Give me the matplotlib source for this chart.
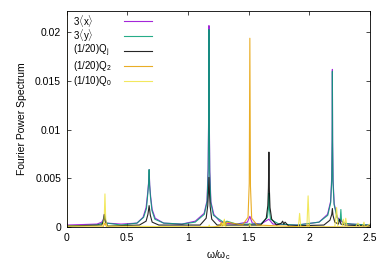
import numpy as np
import matplotlib.pyplot as plt

# spectra (omega / omega_c, power)
w_x = [0, 0.25, 0.29, 0.303, 0.31, 0.317, 0.33, 0.45, 0.58, 0.63, 0.655, 0.668, 0.675, 0.68,
       0.685, 0.692, 0.705, 0.73, 0.8, 0.95, 1.06, 1.133, 1.157, 1.166, 1.170, 1.173, 1.176,
       1.180, 1.189, 1.213, 1.26, 1.3, 1.4, 1.49, 1.51, 1.53, 1.6, 1.667, 1.7, 1.9, 2.08, 2.15,
       2.175, 2.184, 2.188, 2.19, 2.192, 2.196, 2.205, 2.23, 2.28, 2.35, 2.5]
p_x = [0.0002, 0.0003, 0.0005, 0.0008, 0.0013, 0.0008, 0.0004, 0.0003, 0.0004, 0.0010, 0.0020,
       0.0035, 0.0045, 0.0059, 0.0043, 0.0032, 0.0018, 0.0009, 0.0004, 0.0003, 0.0006, 0.0014,
       0.0027, 0.0060, 0.0110, 0.0207, 0.0110, 0.0058, 0.0026, 0.0013, 0.0006, 0.0004, 0.0003,
       0.0005, 0.0011, 0.0004, 0.0003, 0.0008, 0.0003, 0.0002, 0.0005, 0.0013, 0.0026, 0.0050,
       0.0090, 0.0162, 0.0088, 0.0048, 0.0024, 0.0010, 0.0004, 0.0003, 0.0002]

w_y = [0, 0.25, 0.295, 0.305, 0.312, 0.319, 0.33, 0.45, 0.58, 0.635, 0.658, 0.669, 0.676, 0.68,
       0.684, 0.691, 0.703, 0.727, 0.8, 0.95, 1.06, 1.135, 1.158, 1.167, 1.170, 1.173, 1.176,
       1.179, 1.188, 1.21, 1.28, 1.3, 1.32, 1.4, 1.6, 1.655, 1.663, 1.667, 1.671, 1.68, 1.75,
       1.9, 2.08, 2.152, 2.176, 2.185, 2.188, 2.19, 2.192, 2.195, 2.204, 2.228, 2.245, 2.255,
       2.26, 2.265, 2.28, 2.35, 2.5]
p_y = [0.0001, 0.0002, 0.0004, 0.0008, 0.0013, 0.0007, 0.0004, 0.0002, 0.0004, 0.0010, 0.0019,
       0.0034, 0.0045, 0.0059, 0.0043, 0.0031, 0.0017, 0.0008, 0.0004, 0.0003, 0.0005, 0.0013,
       0.0026, 0.0058, 0.0105, 0.0203, 0.0105, 0.0056, 0.0025, 0.0012, 0.0006, 0.0004, 0.0006,
       0.0003, 0.0003, 0.0010, 0.0020, 0.0035, 0.0018, 0.0008, 0.0003, 0.0002, 0.0005, 0.0012,
       0.0025, 0.0048, 0.0088, 0.0160, 0.0086, 0.0046, 0.0023, 0.0010, 0.0006, 0.0008, 0.0018,
       0.0007, 0.0004, 0.0003, 0.0002]

w_j = [0, 0.29, 0.305, 0.312, 0.32, 0.34, 0.6, 0.655, 0.67, 0.68, 0.69, 0.705, 0.76, 1.1, 1.15,
       1.163, 1.168, 1.173, 1.178, 1.183, 1.196, 1.24, 1.6, 1.645, 1.658, 1.663, 1.667, 1.671,
       1.676, 1.69, 1.73, 1.77, 1.78, 1.79, 1.8, 1.83, 2.12, 2.17, 2.185, 2.19, 2.195, 2.21,
       2.24, 2.25, 2.26, 2.3, 2.5]
p_j = [0.0001, 0.0002, 0.0006, 0.0013, 0.0005, 0.0001, 0.0002, 0.0006, 0.0013, 0.0022, 0.0012,
       0.0005, 0.0002, 0.0002, 0.0009, 0.0022, 0.0034, 0.0051, 0.0033, 0.0021, 0.0008, 0.0002,
       0.0002, 0.0009, 0.0022, 0.0040, 0.0077, 0.0038, 0.0020, 0.0008, 0.0002, 0.0004, 0.0006,
       0.0003, 0.0005, 0.0001, 0.0002, 0.0007, 0.0013, 0.0019, 0.0012, 0.0005, 0.0003, 0.0008,
       0.0003, 0.0002, 0.0001]

w_2 = [0, 0.30, 0.315, 0.33, 1.2, 1.26, 1.275, 1.285, 1.30, 1.31, 1.32, 1.45, 1.495, 1.505,
       1.51, 1.515, 1.525, 1.57, 1.98, 1.99, 2.0, 2.5]
p_2 = [0.0000, 0.0000, 0.0004, 0.0000, 0.0000, 0.0001, 0.0005, 0.0001, 0.0007, 0.0002, 0.0005,
       0.0002, 0.0010, 0.0045, 0.0194, 0.0042, 0.0009, 0.0002, 0.0000, 0.0002, 0.0000, 0.0000]

w_0 = [0, 0.002, 0.30, 0.31, 0.316, 0.322, 0.33, 1.17, 1.175, 1.18, 1.27, 1.29, 1.295, 1.30,
       1.305, 1.32, 1.5, 1.51, 1.52, 1.91, 1.92, 1.93, 1.98, 1.99, 2.0, 2.21, 2.225, 2.235, 2.27,
       2.28, 2.29, 2.30, 2.31, 2.32, 2.38, 2.40, 2.42, 2.44, 2.45, 2.46, 2.5]
p_0 = [0.05, 0.0001, 0.0001, 0.0009, 0.0034, 0.0009, 0.0001, 0.0000, 0.0002, 0.0000, 0.0000,
       0.0004, 0.0001, 0.0008, 0.0001, 0.0000, 0.0000, 0.0003, 0.0000, 0.0000, 0.0014, 0.0000,
       0.0000, 0.0032, 0.0000, 0.0000, 0.0020, 0.0000, 0.0000, 0.0008, 0.0001, 0.0009, 0.0001,
       0.0000, 0.0000, 0.0004, 0.0000, 0.0001, 0.0005, 0.0000, 0.0003]

series = [
    (w_x, p_x, '#9400d3', r'3$\langle$x$\rangle$'),
    (w_y, p_y, '#009e73', r'3$\langle$y$\rangle$'),
    (w_j, p_j, '#000000', r'(1/20)Q$_\mathregular{j}$'),
    (w_2, p_2, '#e69f00', r'(1/20)Q$_\mathregular{2}$'),
    (w_0, p_0, '#f0e442', r'(1/10)Q$_\mathregular{0}$'),
]
xticks = [0, 0.5, 1, 1.5, 2, 2.5]
xticklabels = ['0', '0.5', '1', '1.5', '2', '2.5']
yticks = [0, 0.005, 0.01, 0.015, 0.02]
yticklabels = ['0', '0.005', '0.01', '0.015', '0.02']

plt.rcParams['font.family'] = ['Liberation Sans', 'DejaVu Sans']
plt.rcParams['mathtext.fontset'] = 'custom'
plt.rcParams['mathtext.rm'] = 'Liberation Sans'
plt.rcParams['mathtext.it'] = 'Liberation Sans'

fig = plt.figure(figsize=(3.9, 2.73), dpi=100)
ax = fig.add_axes([66.6 / 390, 46 / 273, (370 - 66.6) / 390, (227 - 11) / 273])

for i, (w, p, c, lab) in enumerate(series):
    ax.plot(w, p, color=c, lw=0.8, alpha=0.85)
    # gnuplot style key: text left, sample on the right
    yy = 0.952 - i * 0.069
    ax.text(0.02, yy, lab, transform=ax.transAxes, fontsize=7, va='center', ha='left')
    ax.plot([0.19, 0.28], [yy, yy], color=c, lw=0.8, alpha=0.85, transform=ax.transAxes)

ax.set_xlim(0, 2.5)
ax.set_ylim(0, 0.0222)
ax.set_xticks(xticks)
ax.set_xticklabels(xticklabels)
ax.set_yticks(yticks)
ax.set_yticklabels(yticklabels)
ax.tick_params(direction='in', top=True, right=True, labelsize=7.5, length=3, width=0.5, pad=4)
for s in ax.spines.values():
    s.set_linewidth(0.6)
ax.set_xlabel(r'$\omega$/$\omega_\mathregular{c}$', fontsize=7.5, labelpad=4)
ax.set_ylabel('Fourier Power Spectrum', fontsize=7.5, labelpad=6)

fig.savefig('out.png', dpi=100)
